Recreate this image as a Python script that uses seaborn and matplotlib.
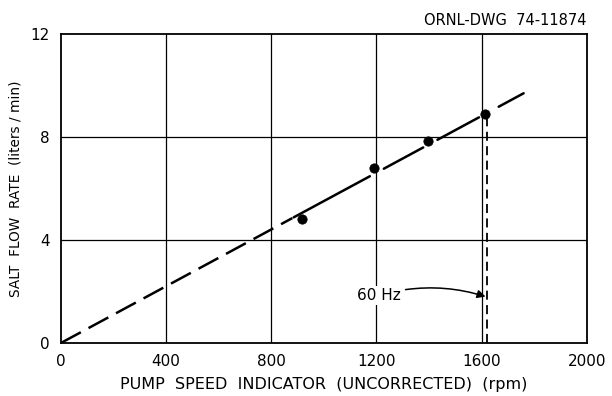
import matplotlib
matplotlib.use("Agg")
import matplotlib.pyplot as plt
import seaborn as sns
import pandas as pd

# data
pump_speed = [918, 1192, 1397, 1614]          # rpm
flow_rate = [4.8, 6.8, 7.83, 8.9]             # liters/min
fit_x = [0, 1760]
fit_y = [0, 9.7]
hz60_x = 1620
hz60_flow = 8.9
x_ticks = [0, 400, 800, 1200, 1600, 2000]
y_ticks = [0, 4, 8, 12]

sns.set_theme(style="white")
plt.rcParams['font.family'] = ['DejaVu Sans']
plt.rcParams['text.color'] = 'black'
plt.rcParams['axes.labelcolor'] = 'black'

fig = plt.figure(figsize=(6.12, 3.96), dpi=100)
ax = fig.add_axes([0.0997, 0.134, 0.859, 0.78])

ax.set_xlim(0, 2000)
ax.set_ylim(0, 12)
ax.set_xticks(x_ticks)
ax.set_yticks(y_ticks)
ax.set_xticklabels([str(v) for v in x_ticks], fontsize=11)
ax.set_yticklabels([str(v) for v in y_ticks], fontsize=11)
ax.tick_params(axis='both', length=0, pad=8, colors='black', labelcolor='black')

for v in x_ticks[1:-1]:
    ax.axvline(v, color='black', lw=0.9, zorder=1)
for v in y_ticks[1:-1]:
    ax.axhline(v, color='black', lw=0.9, zorder=1)

for s in ax.spines.values():
    s.set_color('black')
    s.set_linewidth(1.3)

# fitted line: dashed near the origin, long segments higher up
slope = fit_y[1] / fit_x[1]
df_dash = pd.DataFrame({'x': [0, 880], 'y': [0, 880 * slope]})
sns.lineplot(data=df_dash, x='x', y='y', ax=ax, color='black', lw=1.8,
             dashes=False, linestyle=(0, (9, 3.5)), zorder=3)
for a, b in [(885, 1175), (1228, 1378), (1432, 1590), (1665, fit_x[1])]:
    seg = pd.DataFrame({'x': [a, b], 'y': [a * slope, b * slope]})
    sns.lineplot(data=seg, x='x', y='y', ax=ax, color='black', lw=1.8, zorder=3)

# 60 Hz vertical dashed line
vdf = pd.DataFrame({'x': [hz60_x, hz60_x], 'y': [0, hz60_flow]})
sns.lineplot(data=vdf, x='x', y='y', ax=ax, color='black', lw=1.3,
             sort=False, estimator=None, dashes=False,
             linestyle=(0, (5, 3)), zorder=3)

pts = pd.DataFrame({'x': pump_speed, 'y': flow_rate})
sns.scatterplot(data=pts, x='x', y='y', ax=ax, color='black', s=45,
                edgecolor='black', zorder=4)

ax.annotate('60 Hz', xy=(hz60_x - 5, 1.8), xytext=(1125, 1.85),
            fontsize=11, va='center', ha='left', color='black',
            bbox=dict(boxstyle='square,pad=0.15', fc='white', ec='none'),
            arrowprops=dict(arrowstyle='-|>', color='black', lw=1.1,
                            connectionstyle='arc3,rad=-0.15',
                            shrinkA=2, shrinkB=0, mutation_scale=12),
            zorder=5)

ax.set_xlabel('PUMP  SPEED  INDICATOR  (UNCORRECTED)  (rpm)', fontsize=11.5,
              labelpad=6, color='black')
ax.set_ylabel('SALT  FLOW  RATE  (liters / min)', fontsize=9.8, labelpad=6,
              color='black')

fig.text(0.958, 0.948, 'ORNL-DWG  74-11874', fontsize=10.5, ha='right',
         va='center', color='black')

fig.savefig('out.png', dpi=100)
